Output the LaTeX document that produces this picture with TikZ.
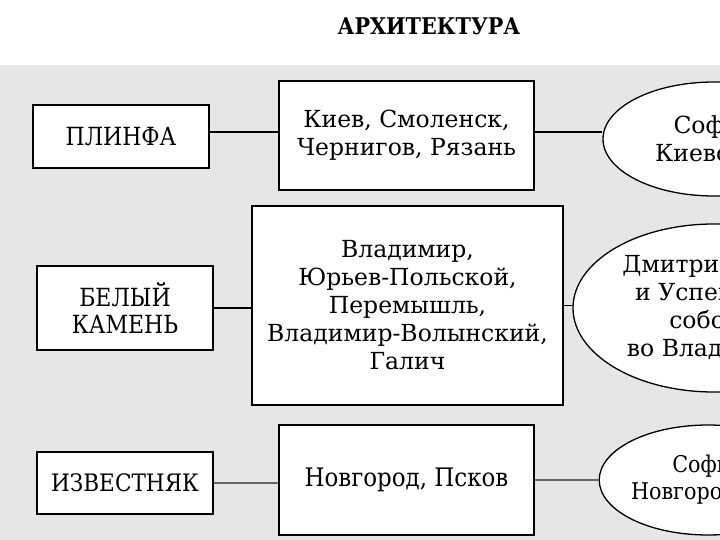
\documentclass[tikz,border=0pt]{standalone}
\usepackage{fontspec}
\setmainfont{DejaVu Serif}
\newfontfamily\condfont[FakeStretch=0.9]{DejaVu Serif}
\newfontfamily\lblfont[FakeStretch=0.88]{DejaVu Serif}
\usetikzlibrary{shapes.geometric}
\definecolor{bggray}{HTML}{E6E6E6}
\newcommand\txtA{\fontsize{23.5}{28}\selectfont}
\newcommand\txtL{\lblfont\fontsize{25}{27}\selectfont}
\newcommand\txtC{\condfont\fontsize{24}{27}\selectfont}
\newcommand\txtCb{\condfont\fontsize{25.5}{27}\selectfont}
\newcommand\txtCe{\condfont\fontsize{23}{27}\selectfont}
\newcommand\txtT{\condfont\bfseries\fontsize{23}{27}\selectfont}
\tikzset{
  box/.style={draw=black, line width=1.8pt, fill=white, inner sep=0pt, align=center},
  oval/.style={ellipse, draw=black, line width=1.3pt, fill=white, inner sep=0pt, align=center},
  link/.style={line width=1.8pt, draw=black},
  linkg/.style={line width=1.3pt, draw=black!60},
}
\begin{document}
\begin{tikzpicture}[x=1pt,y=-1pt]
\useasboundingbox (0,0) rectangle (720,540);
\clip (0,0) rectangle (720,540);
\fill[white] (0,0) rectangle (720,65);
\fill[bggray] (0,65) rectangle (720,540);
\node[font=\txtT] (title) at (429,26) {АРХИТЕКТУРА};
% row 1
\node[box, minimum width=176pt, minimum height=63pt, font=\txtL] (b1) at (121,136.5) {ПЛИНФА};
\node[box, minimum width=255pt, minimum height=109pt, font=\txtA] (c1) at (406.5,135.5) {Киев, Смоленск,\\Чернигов, Рязань};
\node[oval, minimum width=222pt, minimum height=114pt, font=\txtA] (e1) at (714,139) {София\\Киевская};
% row 2
\node[box, minimum width=176pt, minimum height=84pt, font=\txtL] (b2) at (125,308) {БЕЛЫЙ\\КАМЕНЬ};
\node[box, minimum width=311pt, minimum height=199pt, font=\txtA] (c2) at (407.5,305.5) {Владимир,\\Юрьев-Польской,\\Перемышль,\\Владимир-Волынский,\\Галич};
\node[oval, minimum width=282pt, minimum height=168pt, font=\txtA] (e2) at (714,308) {Дмитриевский\\и Успенский\\соборы\\во Владимире};
% row 3
\node[box, minimum width=176pt, minimum height=62pt, font=\txtC] (b3) at (125,483) {ИЗВЕСТНЯК};
\node[box, minimum width=255pt, minimum height=110pt, font=\txtCb] (c3) at (406.5,480) {Новгород, Псков};
\node[oval, minimum width=212pt, minimum height=110pt, font=\txtCe] (e3) at (708,480) {София\\Новгородская};
% links
\coordinate (p1) at ([yshift=4.5pt]b1.east);
\coordinate (p2) at ([yshift=3.5pt]c1.east);
\draw[link] (p1) -- (p1 -| c1.west);
\draw[link] (p2) -- (p2 -| e1.west);
\draw[link] (b2.east) -- (b2.east -| c2.west);
\draw[link] (c2.east) -- (c2.east -| e2.west);
\draw[linkg] (b3.east) -- (b3.east -| c3.west);
\draw[linkg] (c3.east) -- (c3.east -| e3.west);
\end{tikzpicture}
\end{document}
